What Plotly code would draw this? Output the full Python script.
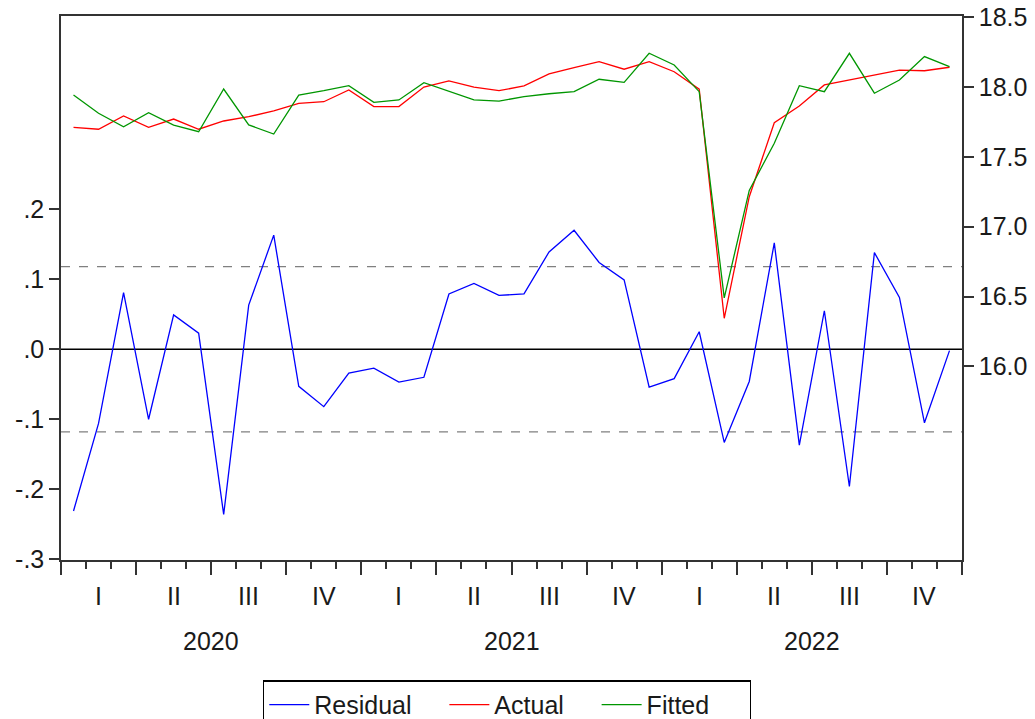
import plotly.graph_objects as go

# Monthly observations, Jan 2020 - Dec 2022
months = list(range(36))

residual = [-0.231, -0.106, 0.081, -0.100, 0.049, 0.023, -0.236, 0.063, 0.163, -0.053,
            -0.082, -0.034, -0.027, -0.047, -0.040, 0.079, 0.094, 0.077, 0.079, 0.139,
            0.170, 0.124, 0.099, -0.054, -0.042, 0.025, -0.133, -0.046, 0.152, -0.137,
            0.055, -0.196, 0.138, 0.074, -0.105, -0.002]

actual = [17.712, 17.698, 17.793, 17.712, 17.771, 17.698, 17.757, 17.788, 17.829, 17.884,
          17.895, 17.979, 17.860, 17.860, 18.000, 18.044, 17.999, 17.974, 18.008, 18.095,
          18.140, 18.182, 18.128, 18.182, 18.110, 17.985, 16.344, 17.215, 17.745, 17.865,
          18.015, 18.051, 18.087, 18.122, 18.117, 18.142]

fitted = [17.943, 17.812, 17.716, 17.817, 17.727, 17.680, 17.986, 17.729, 17.664, 17.943,
          17.974, 18.010, 17.891, 17.908, 18.032, 17.970, 17.908, 17.900, 17.931, 17.952,
          17.967, 18.056, 18.034, 18.242, 18.158, 17.967, 16.490, 17.260, 17.597, 18.010,
          17.967, 18.242, 17.956, 18.051, 18.218, 18.146]

quarter_labels = ["I", "II", "III", "IV"]
years = ["2020", "2021", "2022"]

left_tickvals = [0.2, 0.1, 0.0, -0.1, -0.2, -0.3]
left_ticktext = [".2", ".1", ".0", "-.1", "-.2", "-.3"]
right_tickvals = [16.0, 16.5, 17.0, 17.5, 18.0, 18.5]
right_ticktext = ["16.0", "16.5", "17.0", "17.5", "18.0", "18.5"]

resid_se = 0.118

FONT = "Liberation Sans, Arial, sans-serif"
AXIS_COLOR = "#333333"
NBSP = "\u00a0"

xpos = [m + 0.5 for m in months]

fig = go.Figure()
fig.add_trace(go.Scatter(x=xpos, y=residual, mode="lines", name="Residual" + NBSP * 4,
                         line=dict(color="#0000ff", width=1.3), yaxis="y"))
fig.add_trace(go.Scatter(x=xpos, y=actual, mode="lines", name="Actual" + NBSP * 4,
                         line=dict(color="#ff0000", width=1.3), yaxis="y2"))
fig.add_trace(go.Scatter(x=xpos, y=fitted, mode="lines", name="Fitted" + NBSP * 5,
                         line=dict(color="#009600", width=1.3), yaxis="y2"))

# zero line and +/- one standard error bands for the residual
fig.add_shape(type="line", xref="paper", yref="y", x0=0, x1=1, y0=0, y1=0,
              line=dict(color="#000000", width=1.5), layer="below")
for s in (resid_se, -resid_se):
    fig.add_shape(type="line", xref="paper", yref="y", x0=0, x1=1, y0=s, y1=s,
                  line=dict(color="#808080", width=1.2, dash="dash"), layer="below")

annotations = []
for q in range(12):
    annotations.append(dict(x=1.5 + 3 * q, y=-0.066, xref="x", yref="paper",
                            text=quarter_labels[q % 4], showarrow=False,
                            font=dict(family=FONT, size=25, color="#1a1a1a"),
                            xanchor="center", yanchor="middle"))
for k, yr in enumerate(years):
    annotations.append(dict(x=6 + 12 * k, y=-0.148, xref="x", yref="paper",
                            text=yr, showarrow=False,
                            font=dict(family=FONT, size=25, color="#1a1a1a"),
                            xanchor="center", yanchor="middle"))

fig.update_layout(
    width=1035, height=719,
    margin=dict(l=61, r=73, t=16, b=159, autoexpand=False),
    paper_bgcolor="white", plot_bgcolor="white",
    font=dict(family=FONT, size=25, color="#1a1a1a"),
    showlegend=True,
    legend=dict(orientation="h", x=0.495, xanchor="center", y=-0.2215, yanchor="top",
                bordercolor="#000000", borderwidth=1.3, bgcolor="white",
                font=dict(family=FONT, size=25, color="#1a1a1a"),
                itemwidth=40, tracegroupgap=0),
    xaxis=dict(range=[0, 36], showgrid=False, zeroline=False,
               showline=True, linecolor=AXIS_COLOR, linewidth=1.5, mirror=True,
               ticks="outside", tick0=0, dtick=3, ticklen=13, tickwidth=1.5,
               tickcolor=AXIS_COLOR, showticklabels=False,
               minor=dict(tick0=0, dtick=1, ticks="outside", ticklen=7,
                          tickwidth=1.5, tickcolor=AXIS_COLOR)),
    yaxis=dict(range=[-0.301, 0.476], showgrid=False, zeroline=False,
               showline=True, linecolor=AXIS_COLOR, linewidth=1.5,
               ticks="outside", ticklen=10, tickwidth=1.5, tickcolor=AXIS_COLOR,
               tickvals=left_tickvals, ticktext=left_ticktext,
               tickfont=dict(family=FONT, size=25, color="#1a1a1a")),
    yaxis2=dict(range=[14.613, 18.509], overlaying="y", side="right",
                showgrid=False, zeroline=False,
                showline=True, linecolor=AXIS_COLOR, linewidth=1.5,
                ticks="outside", ticklen=10, tickwidth=1.5, tickcolor=AXIS_COLOR,
                tickvals=right_tickvals, ticktext=right_ticktext,
                tickfont=dict(family=FONT, size=25, color="#1a1a1a")),
    annotations=annotations,
)

fig.write_html("out.html")
